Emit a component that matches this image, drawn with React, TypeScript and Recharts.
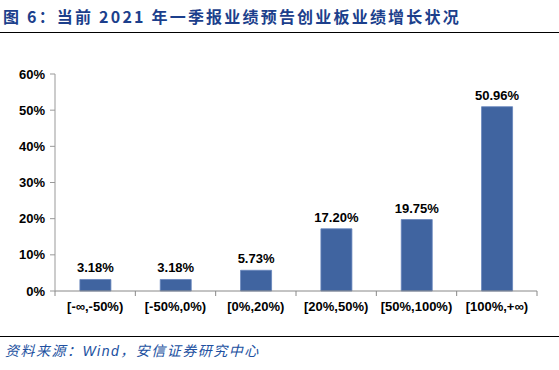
import { Bar, BarChart, LabelList, XAxis, YAxis } from "recharts"

const categories = [
  "[-∞,-50%)",
  "[-50%,0%)",
  "[0%,20%)",
  "[20%,50%)",
  "[50%,100%)",
  "[100%,+∞)",
]
const shares = [3.18, 3.18, 5.73, 17.2, 19.75, 50.96]
const yTicks = [0, 10, 20, 30, 40, 50, 60]

const data = categories.map((name, i) => ({ name, value: shares[i] }))

const FONT = '"Liberation Sans", Arial, "Noto Sans CJK SC", sans-serif'
const CJK = '"Noto Sans CJK SC", "Liberation Sans", sans-serif'
const tickStyle = { fill: "#000", fontSize: 13, fontWeight: 700, fontFamily: FONT }

const W = 559
const H = 336
const M = { top: 74, right: 22, bottom: 15, left: 0 }
const Y_W = 55
const BAND = (W - M.left - M.right - Y_W) / categories.length

// category label plus the small tick marks at the band edges
function CatTick(props: any) {
  const { x, y, payload, index } = props
  const axisY = y - 11
  return (
    <g>
      <line x1={x + BAND / 2} x2={x + BAND / 2} y1={axisY} y2={axisY + 5} stroke="#888" />
      {index === 0 && (
        <line x1={x - BAND / 2} x2={x - BAND / 2} y1={axisY} y2={axisY + 5} stroke="#888" />
      )}
      <text x={x} y={y} dy="0.71em" textAnchor="middle" style={tickStyle}>
        {payload.value}
      </text>
    </g>
  )
}

export default function App() {
  return (
    <div
      style={{
        position: "fixed",
        left: 0,
        top: 0,
        width: 559,
        height: 370,
        background: "#fff",
        fontFamily: FONT,
      }}
    >
      <div
        style={{
          position: "absolute",
          left: 3,
          top: 4,
          fontFamily: CJK,
          fontSize: 16,
          fontWeight: 700,
          letterSpacing: 2.2,
          color: "#1c3f8c",
          whiteSpace: "nowrap",
          lineHeight: "24px",
        }}
      >
        图 6：当前 2021 年一季报业绩预告创业板业绩增长状况
      </div>
      <div
        style={{
          position: "absolute",
          left: 0,
          top: 32,
          width: 559,
          height: 1,
          background: "#000",
        }}
      />
      <div style={{ position: "absolute", left: 0, top: 0 }}>
        <BarChart width={W} height={H} data={data} margin={M} barCategoryGap="31%">
          <XAxis
            dataKey="name"
            height={30}
            axisLine={{ stroke: "#888" }}
            tickLine={false}
            tickSize={0}
            tickMargin={11}
            interval={0}
            tick={<CatTick />}
          />
          <YAxis
            width={Y_W}
            domain={[0, 60]}
            ticks={yTicks}
            tickFormatter={(v) => `${v}%`}
            axisLine={{ stroke: "#999" }}
            tickLine={{ stroke: "#999" }}
            tickSize={5}
            tickMargin={5}
            tick={tickStyle}
          />
          <Bar
            dataKey="value"
            fill="#4064a0"
            stroke="#6484bb"
            strokeWidth={0.8}
            isAnimationActive={false}
          >
            <LabelList
              dataKey="value"
              position="top"
              offset={7}
              formatter={(v: number) => `${v.toFixed(2)}%`}
              style={tickStyle}
            />
          </Bar>
        </BarChart>
      </div>
      <div
        style={{
          position: "absolute",
          left: 0,
          top: 336,
          width: 559,
          height: 1,
          background: "#000",
        }}
      />
      <div
        style={{
          position: "absolute",
          left: 5,
          top: 340,
          fontFamily: CJK,
          fontSize: 14,
          fontStyle: "italic",
          letterSpacing: 1.5,
          color: "#2150a0",
          whiteSpace: "nowrap",
          lineHeight: "20px",
        }}
      >
        资料来源：<span style={{ fontFamily: FONT }}>Wind</span>，安信证券研究中心
      </div>
    </div>
  )
}
